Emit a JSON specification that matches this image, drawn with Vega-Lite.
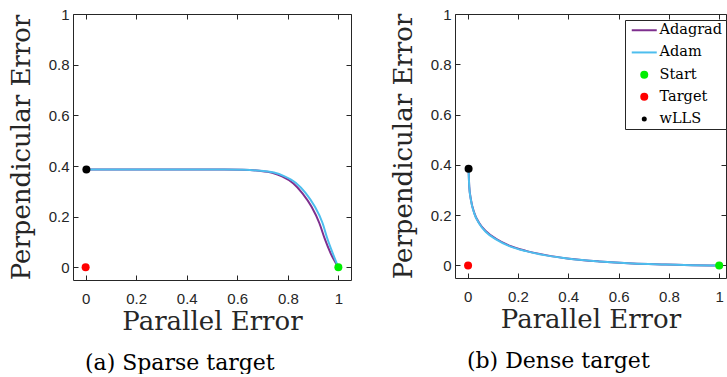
{
  "$schema": "https://vega.github.io/schema/vega-lite/v6.json",
  "background": "white",
  "padding": {"left": 8, "top": 7, "right": 0, "bottom": 0},
  "datasets": {
    "lines": [
      {"panel": "a", "name": "Adagrad", "x": 0, "y": 0.386},
      {"panel": "a", "name": "Adagrad", "x": 0.2, "y": 0.386},
      {"panel": "a", "name": "Adagrad", "x": 0.4, "y": 0.386},
      {"panel": "a", "name": "Adagrad", "x": 0.55, "y": 0.386},
      {"panel": "a", "name": "Adagrad", "x": 0.62, "y": 0.385},
      {"panel": "a", "name": "Adagrad", "x": 0.686, "y": 0.381},
      {"panel": "a", "name": "Adagrad", "x": 0.738, "y": 0.373},
      {"panel": "a", "name": "Adagrad", "x": 0.777, "y": 0.359},
      {"panel": "a", "name": "Adagrad", "x": 0.821, "y": 0.332},
      {"panel": "a", "name": "Adagrad", "x": 0.858, "y": 0.292},
      {"panel": "a", "name": "Adagrad", "x": 0.894, "y": 0.239},
      {"panel": "a", "name": "Adagrad", "x": 0.925, "y": 0.174},
      {"panel": "a", "name": "Adagrad", "x": 0.946, "y": 0.113},
      {"panel": "a", "name": "Adagrad", "x": 0.97, "y": 0.054},
      {"panel": "a", "name": "Adagrad", "x": 1, "y": 0},
      {"panel": "a", "name": "Adam", "x": 0, "y": 0.386},
      {"panel": "a", "name": "Adam", "x": 0.2, "y": 0.386},
      {"panel": "a", "name": "Adam", "x": 0.4, "y": 0.386},
      {"panel": "a", "name": "Adam", "x": 0.55, "y": 0.386},
      {"panel": "a", "name": "Adam", "x": 0.626, "y": 0.385},
      {"panel": "a", "name": "Adam", "x": 0.692, "y": 0.381},
      {"panel": "a", "name": "Adam", "x": 0.745, "y": 0.374},
      {"panel": "a", "name": "Adam", "x": 0.785, "y": 0.36},
      {"panel": "a", "name": "Adam", "x": 0.831, "y": 0.334},
      {"panel": "a", "name": "Adam", "x": 0.87, "y": 0.294},
      {"panel": "a", "name": "Adam", "x": 0.906, "y": 0.241},
      {"panel": "a", "name": "Adam", "x": 0.937, "y": 0.176},
      {"panel": "a", "name": "Adam", "x": 0.956, "y": 0.115},
      {"panel": "a", "name": "Adam", "x": 0.978, "y": 0.055},
      {"panel": "a", "name": "Adam", "x": 1, "y": 0},
      {"panel": "b", "name": "Adagrad", "x": 0.004, "y": 0.385},
      {"panel": "b", "name": "Adagrad", "x": 0.0066, "y": 0.314},
      {"panel": "b", "name": "Adagrad", "x": 0.0133, "y": 0.262},
      {"panel": "b", "name": "Adagrad", "x": 0.0265, "y": 0.209},
      {"panel": "b", "name": "Adagrad", "x": 0.046, "y": 0.169},
      {"panel": "b", "name": "Adagrad", "x": 0.073, "y": 0.136},
      {"panel": "b", "name": "Adagrad", "x": 0.113, "y": 0.106},
      {"panel": "b", "name": "Adagrad", "x": 0.166, "y": 0.079},
      {"panel": "b", "name": "Adagrad", "x": 0.232, "y": 0.058},
      {"panel": "b", "name": "Adagrad", "x": 0.311, "y": 0.041},
      {"panel": "b", "name": "Adagrad", "x": 0.404, "y": 0.027},
      {"panel": "b", "name": "Adagrad", "x": 0.523, "y": 0.016},
      {"panel": "b", "name": "Adagrad", "x": 0.656, "y": 0.008},
      {"panel": "b", "name": "Adagrad", "x": 0.788, "y": 0.004},
      {"panel": "b", "name": "Adagrad", "x": 0.894, "y": 0.001},
      {"panel": "b", "name": "Adagrad", "x": 1, "y": 0},
      {"panel": "b", "name": "Adam", "x": 0.004, "y": 0.385},
      {"panel": "b", "name": "Adam", "x": 0.0066, "y": 0.313},
      {"panel": "b", "name": "Adam", "x": 0.0133, "y": 0.26},
      {"panel": "b", "name": "Adam", "x": 0.0265, "y": 0.207},
      {"panel": "b", "name": "Adam", "x": 0.046, "y": 0.167},
      {"panel": "b", "name": "Adam", "x": 0.073, "y": 0.133},
      {"panel": "b", "name": "Adam", "x": 0.113, "y": 0.104},
      {"panel": "b", "name": "Adam", "x": 0.166, "y": 0.077},
      {"panel": "b", "name": "Adam", "x": 0.232, "y": 0.057},
      {"panel": "b", "name": "Adam", "x": 0.311, "y": 0.04},
      {"panel": "b", "name": "Adam", "x": 0.404, "y": 0.027},
      {"panel": "b", "name": "Adam", "x": 0.523, "y": 0.016},
      {"panel": "b", "name": "Adam", "x": 0.656, "y": 0.008},
      {"panel": "b", "name": "Adam", "x": 0.788, "y": 0.004},
      {"panel": "b", "name": "Adam", "x": 0.894, "y": 0.001},
      {"panel": "b", "name": "Adam", "x": 1, "y": 0}
    ],
    "points": [
      {"panel": "a", "name": "Start", "x": 1, "y": 0},
      {"panel": "a", "name": "Target", "x": 0, "y": 0},
      {"panel": "a", "name": "wLLS", "x": 0.003, "y": 0.386},
      {"panel": "b", "name": "Start", "x": 1, "y": 0},
      {"panel": "b", "name": "Target", "x": 0.002, "y": 0},
      {"panel": "b", "name": "wLLS", "x": 0.004, "y": 0.385}
    ]
  },
  "spacing": 38,
  "hconcat": [
    {
      "width": 278,
      "height": 266,
      "title": {"text": "(a) Sparse target"},
      "resolve": {"axis": {"x": "independent", "y": "independent"}},
      "layer": [
        {
          "data": {"name": "lines"},
          "transform": [{"filter": "datum.panel == 'a'"}],
          "mark": {"type": "line", "strokeWidth": 2, "interpolate": "monotone"},
          "encoding": {
            "x": {"field": "x", "type": "quantitative", "scale": {"domain": [-0.05, 1.05], "nice": false, "zero": false},
                  "axis": {"title": "Parallel Error", "values": [0, 0.2, 0.4, 0.6, 0.8, 1], "format": "~g"}},
            "y": {"field": "y", "type": "quantitative", "scale": {"domain": [-0.05, 1], "nice": false, "zero": false},
                  "axis": {"title": "Perpendicular Error", "values": [0, 0.2, 0.4, 0.6, 0.8, 1], "format": "~g"}},
            "color": {"field": "name", "type": "nominal",
                      "scale": {"domain": ["Adagrad", "Adam", "Start", "Target", "wLLS"], "range": ["#7e2f8e", "#4dbeee", "#00ee00", "#ff0000", "#000000"]},
                      "legend": null}
          }
        },
        {
          "data": {"name": "points"},
          "transform": [{"filter": "datum.panel == 'a'"}],
          "mark": {"type": "circle", "opacity": 1},
          "encoding": {
            "x": {"field": "x", "type": "quantitative", "scale": {"domain": [-0.05, 1.05], "nice": false, "zero": false},
                  "axis": {"orient": "top", "labels": false, "title": null, "values": [0, 0.2, 0.4, 0.6, 0.8, 1]}},
            "y": {"field": "y", "type": "quantitative", "scale": {"domain": [-0.05, 1], "nice": false, "zero": false},
                  "axis": {"orient": "right", "labels": false, "title": null, "values": [0, 0.2, 0.4, 0.6, 0.8, 1]}},
            "color": {"field": "name", "type": "nominal",
                      "scale": {"domain": ["Adagrad", "Adam", "Start", "Target", "wLLS"], "range": ["#7e2f8e", "#4dbeee", "#00ee00", "#ff0000", "#000000"]},
                      "legend": null},
            "size": {"field": "name", "type": "ordinal", "scale": {"domain": ["Start", "Target", "wLLS"], "range": [64, 64, 25]}, "legend": null}
          }
        }
      ]
    },
    {
      "width": 271,
      "height": 264,
      "title": {"text": "(b) Dense target"},
      "resolve": {"axis": {"x": "independent", "y": "independent"}},
      "layer": [
        {
          "data": {"name": "lines"},
          "transform": [{"filter": "datum.panel == 'b'"}],
          "mark": {"type": "line", "strokeWidth": 2, "interpolate": "monotone"},
          "encoding": {
            "x": {"field": "x", "type": "quantitative", "scale": {"domain": [-0.05, 1.027], "nice": false, "zero": false},
                  "axis": {"title": "Parallel Error", "values": [0, 0.2, 0.4, 0.6, 0.8, 1], "format": "~g"}},
            "y": {"field": "y", "type": "quantitative", "scale": {"domain": [-0.05, 1], "nice": false, "zero": false},
                  "axis": {"title": "Perpendicular Error", "values": [0, 0.2, 0.4, 0.6, 0.8, 1], "format": "~g"}},
            "color": {"field": "name", "type": "nominal",
                      "scale": {"domain": ["Adagrad", "Adam", "Start", "Target", "wLLS"], "range": ["#7e2f8e", "#4dbeee", "#00ee00", "#ff0000", "#000000"]},
                      "legend": {
                        "orient": "none", "legendX": 170, "legendY": 6, "title": null,
                        "symbolSize": 625, "symbolStrokeWidth": 2, "symbolOffset": 9,
                        "labelFont": "DejaVu Serif", "labelFontSize": 14.5, "labelColor": "#000000",
                        "strokeColor": "#262626", "fillColor": "white", "padding": 3, "rowPadding": 7.2, "labelOffset": 8,
                        "encode": {
                          "labels": {"update": {"font": {"value": "DejaVu Serif"}, "fontSize": {"value": 14.5}}},
                          "symbols": {
                            "update": {
                              "shape": {"signal": "datum.value == 'Adagrad' || datum.value == 'Adam' ? 'stroke' : 'circle'"},
                              "size": {"signal": "datum.value == 'Adagrad' || datum.value == 'Adam' ? 625 : (datum.value == 'wLLS' ? 25 : 64)"},
                              "fill": {"signal": "datum.value == 'Start' ? '#00ee00' : datum.value == 'Target' ? '#ff0000' : datum.value == 'wLLS' ? '#000000' : 'transparent'"},
                              "stroke": {"signal": "datum.value == 'Adagrad' ? '#7e2f8e' : datum.value == 'Adam' ? '#4dbeee' : 'transparent'"},
                              "strokeWidth": {"signal": "datum.value == 'Adagrad' || datum.value == 'Adam' ? 2 : 0"},
                              "opacity": {"value": 1}
                            }
                          }
                        }
                      }}
          }
        },
        {
          "data": {"name": "points"},
          "transform": [{"filter": "datum.panel == 'b'"}],
          "mark": {"type": "circle", "opacity": 1},
          "encoding": {
            "x": {"field": "x", "type": "quantitative", "scale": {"domain": [-0.05, 1.027], "nice": false, "zero": false},
                  "axis": {"orient": "top", "labels": false, "title": null, "values": [0, 0.2, 0.4, 0.6, 0.8, 1]}},
            "y": {"field": "y", "type": "quantitative", "scale": {"domain": [-0.05, 1], "nice": false, "zero": false},
                  "axis": {"orient": "right", "labels": false, "title": null, "values": [0, 0.2, 0.4, 0.6, 0.8, 1]}},
            "color": {"field": "name", "type": "nominal",
                      "scale": {"domain": ["Adagrad", "Adam", "Start", "Target", "wLLS"], "range": ["#7e2f8e", "#4dbeee", "#00ee00", "#ff0000", "#000000"]},
                      "legend": {
                        "orient": "none", "legendX": 170, "legendY": 6, "title": null,
                        "symbolSize": 625, "symbolStrokeWidth": 2, "symbolOffset": 9,
                        "labelFont": "DejaVu Serif", "labelFontSize": 14.5, "labelColor": "#000000",
                        "strokeColor": "#262626", "fillColor": "white", "padding": 3, "rowPadding": 7.2, "labelOffset": 8,
                        "encode": {
                          "labels": {"update": {"font": {"value": "DejaVu Serif"}, "fontSize": {"value": 14.5}}},
                          "symbols": {
                            "update": {
                              "shape": {"signal": "datum.value == 'Adagrad' || datum.value == 'Adam' ? 'stroke' : 'circle'"},
                              "size": {"signal": "datum.value == 'Adagrad' || datum.value == 'Adam' ? 625 : (datum.value == 'wLLS' ? 25 : 64)"},
                              "fill": {"signal": "datum.value == 'Start' ? '#00ee00' : datum.value == 'Target' ? '#ff0000' : datum.value == 'wLLS' ? '#000000' : 'transparent'"},
                              "stroke": {"signal": "datum.value == 'Adagrad' ? '#7e2f8e' : datum.value == 'Adam' ? '#4dbeee' : 'transparent'"},
                              "strokeWidth": {"signal": "datum.value == 'Adagrad' || datum.value == 'Adam' ? 2 : 0"},
                              "opacity": {"value": 1}
                            }
                          }
                        }
                      }},
            "size": {"field": "name", "type": "ordinal", "scale": {"domain": ["Start", "Target", "wLLS"], "range": [64, 64, 25]}, "legend": null}
          }
        }
      ]
    }
  ],
  "resolve": {"scale": {"color": "independent", "size": "independent"}, "legend": {"color": "independent", "size": "independent"}},
  "config": {
    "view": {"stroke": null},
    "axis": {
      "grid": false, "domainColor": "#262626", "tickColor": "#262626", "labelColor": "#262626",
      "labelFont": "Liberation Sans", "labelFontSize": 15,
      "titleFont": "DejaVu Serif", "titleFontSize": 26, "titleFontWeight": "normal", "titleColor": "#262626",
      "tickSize": -5, "domainWidth": 1, "tickWidth": 1
    },
    "axisX": {"labelPadding": 16, "titlePadding": 2},
    "axisY": {"labelPadding": 9, "titlePadding": 14},
    "legend": {"labelFont": "DejaVu Serif", "labelFontSize": 14.5, "labelColor": "#000000"},
    "title": {"orient": "bottom", "font": "DejaVu Serif", "fontSize": 22, "fontWeight": "normal", "color": "#000000", "offset": 19, "anchor": "middle", "frame": "bounds"}
  }
}
